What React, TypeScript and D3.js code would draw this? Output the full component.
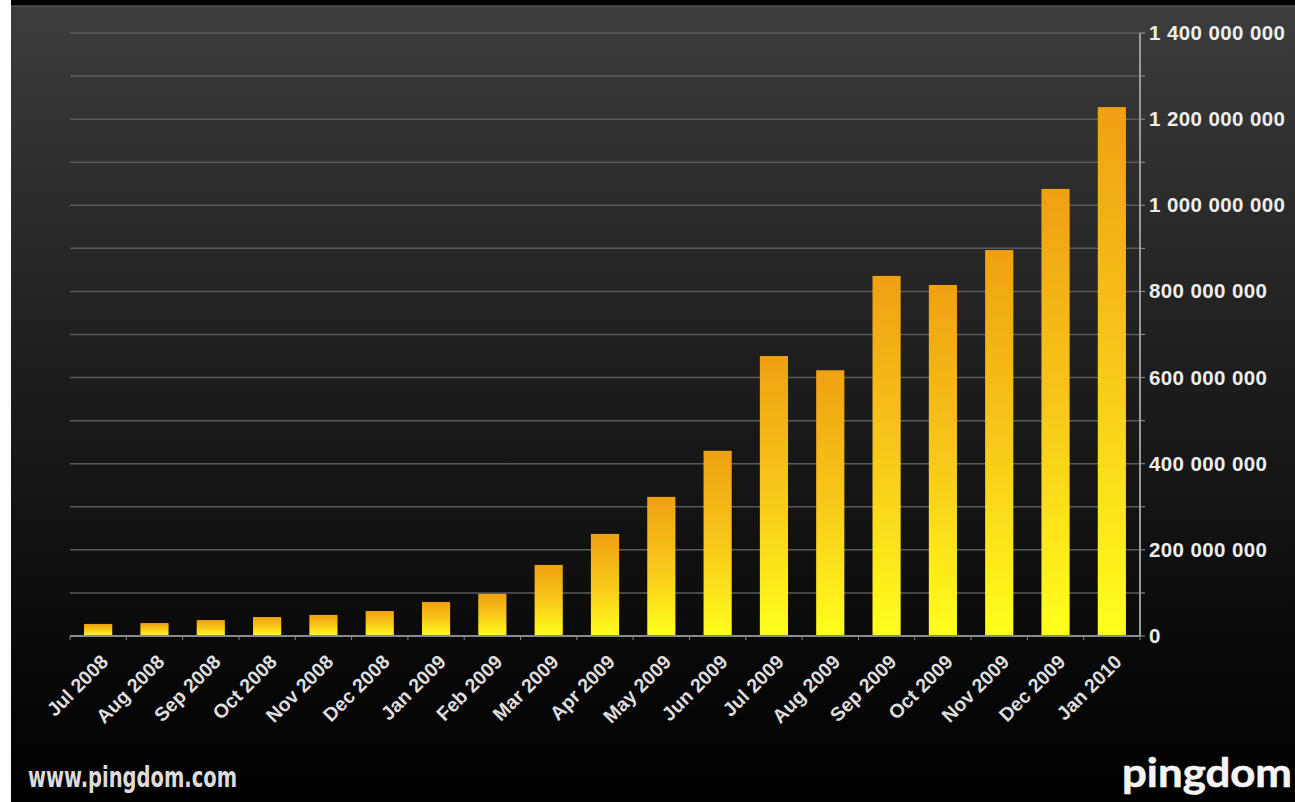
import React from "react";
import * as d3 from "d3";

const months = ["Jul 2008","Aug 2008","Sep 2008","Oct 2008","Nov 2008","Dec 2008","Jan 2009","Feb 2009","Mar 2009","Apr 2009","May 2009","Jun 2009","Jul 2009","Aug 2009","Sep 2009","Oct 2009","Nov 2009","Dec 2009","Jan 2010"];
const values = [28e6,30e6,37e6,44e6,49e6,58e6,79e6,98e6,165e6,237e6,323e6,430e6,650e6,617e6,836e6,815e6,896e6,1038e6,1228e6];
const yTicks = [0,200e6,400e6,600e6,800e6,1000e6,1200e6,1400e6];
const gridTicks = d3.range(0, 1400e6 + 1, 100e6);

const W = 1295, H = 802;
const left = 70, right = 1140, top = 33, bottom = 636;

export default function App() {
  const x = d3.scaleBand<string>().domain(months).range([left, right]).paddingInner(0.5).paddingOuter(0.25);
  const y = d3.scaleLinear().domain([0, 1400e6]).range([bottom, top]);
  const fmt = (v: number) => d3.format(",")(v).replace(/,/g, " ");
  const step = (right - left) / months.length;
  return (
    <svg width={W} height={H} style={{ position: "absolute", left: 0, top: 0, display: "block" }}>
      <defs>
        <linearGradient id="bg" x1="0" y1="0" x2="0" y2="1">
          <stop offset="0" stopColor="#3d3d3d" />
          <stop offset="0.45" stopColor="#1e1e1e" />
          <stop offset="0.85" stopColor="#070707" />
          <stop offset="1" stopColor="#000" />
        </linearGradient>
        <linearGradient id="bar" x1="0" y1="0" x2="0" y2="1">
          <stop offset="0" stopColor="#efa012" />
          <stop offset="0.5" stopColor="#f8c81a" />
          <stop offset="1" stopColor="#ffff1c" />
        </linearGradient>
      </defs>
      <rect x={0} y={0} width={W} height={H} fill="#fff" />
      <rect x={11} y={0} width={W - 11} height={H} fill="url(#bg)" />
      <rect x={11} y={0} width={W - 11} height={5} fill="#000" />
      <line x1={11} x2={W} y1={6.5} y2={6.5} stroke="#4a4a4a" strokeWidth={1.5} />
      {gridTicks.map((t) => (
        <line key={t} x1={left} x2={right} y1={y(t)} y2={y(t)} stroke="#5a5a5a" strokeWidth={1.5} />
      ))}
      {months.map((m, i) => (
        <rect key={m} x={x(m)} y={y(values[i])} width={x.bandwidth()} height={bottom - y(values[i])} fill="url(#bar)" />
      ))}
      <line x1={left} x2={right} y1={bottom} y2={bottom} stroke="#8a8a8a" strokeWidth={2} />
      {d3.range(months.length + 1).map((i) => (
        <line key={i} x1={left + i * step} x2={left + i * step} y1={bottom} y2={bottom + 4} stroke="#8a8a8a" strokeWidth={1} />
      ))}
      <line x1={right} x2={right} y1={top} y2={bottom} stroke="#9a9a9a" strokeWidth={2} />
      {gridTicks.map((t) => (
        <line key={"rt" + t} x1={right} x2={right + 5} y1={y(t)} y2={y(t)} stroke="#9a9a9a" strokeWidth={1} />
      ))}
      {yTicks.map((t) => (
        <text key={"yl" + t} x={right + 9} y={y(t) + 7} fill="#eeeeee" fontFamily="Liberation Sans, Arial, sans-serif" fontWeight="bold" fontSize={20.5} letterSpacing={0.4}>
          {fmt(t)}
        </text>
      ))}
      {months.map((m) => {
        const cx = (x(m) as number) + x.bandwidth() / 2 + 1;
        const cy = bottom + 17;
        return (
          <text key={"xl" + m} x={cx} y={cy} transform={`rotate(-45 ${cx} ${cy})`} textAnchor="end" dominantBaseline="hanging"
            fill="#dedede" fontFamily="Liberation Sans, Arial, sans-serif" fontWeight="bold" fontSize={19.5}>
            {m}
          </text>
        );
      })}
      <text x={28} y={787} fill="#dcdcdc" fontFamily="Liberation Sans Narrow, DejaVu Sans Condensed, sans-serif" fontWeight="bold" fontSize={29}
        textLength={209} lengthAdjust="spacingAndGlyphs">
        www.pingdom.com
      </text>
      <text x={1122} y={787} fill="#f4f4f4" stroke="#f4f4f4" strokeWidth={0.6} strokeLinejoin="round" fontFamily="Lato, Open Sans, sans-serif" fontWeight="bold" fontSize={40}
        textLength={170} lengthAdjust="spacingAndGlyphs">
        pingdom
      </text>
    </svg>
  );
}
